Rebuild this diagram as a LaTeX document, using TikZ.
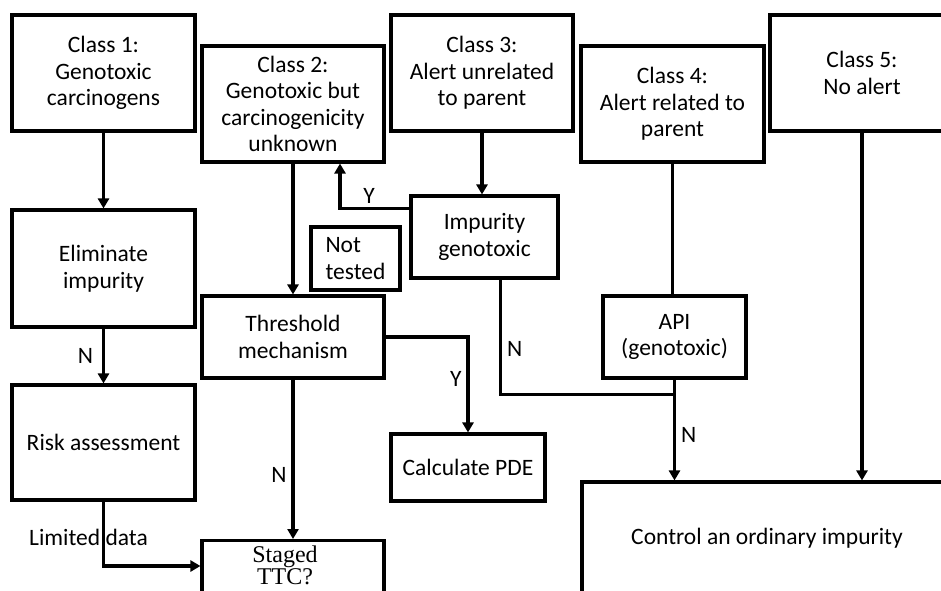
\documentclass[tikz,border=0pt]{standalone}
\usepackage{fontspec}
\setmainfont{Carlito}
\newfontfamily\ttcfont{Liberation Serif}
\usetikzlibrary{arrows.meta}

\begin{document}
\begin{tikzpicture}[x=1pt, y=-1pt,
  box/.style={draw, line width=3.1pt, align=center, inner sep=2pt, font=\fontsize{23.5}{26.5}\selectfont},
  flow/.style={line width=3.1pt, -{Triangle[length=10pt, width=11pt]}},
  link/.style={line width=3.1pt},
  tag/.style={font=\fontsize{23.5}{26.5}\selectfont, inner sep=3pt},
  ttc/.style={font=\ttcfont\fontsize{24}{19}\selectfont, align=center, inner sep=3pt}]
 \useasboundingbox (0,0) rectangle (941,590);
 \node[box, minimum width=183, minimum height=116] (c1) at (103.5,73) {Class 1:\\Genotoxic\\carcinogens};
 \node[box, minimum width=182, minimum height=116] (c2) at (293,104) {Class 2:\\Genotoxic but\\carcinogenicity\\unknown};
 \node[box, minimum width=182, minimum height=116] (c3) at (482,73) {Class 3:\\Alert unrelated\\to parent};
 \node[box, minimum width=183, minimum height=116] (c4) at (672.5,104) {Class 4:\\Alert related to\\parent};
 \node[box, minimum width=184, minimum height=116] (c5) at (862,73) {Class 5:\\No alert};
 \node[box, minimum width=183, minimum height=117] (elim) at (103.5,268.5) {Eliminate\\impurity};
 \node[box, minimum width=89, minimum height=63, align=left] (nottested) at (355.5,258.5) {Not\\tested};
 \node[box, minimum width=147, minimum height=82] (imp) at (484.5,237) {Impurity\\genotoxic};
 \node[box, minimum width=182, minimum height=82] (thresh) at (293,337) {Threshold\\mechanism};
 \node[box, minimum width=143, minimum height=82] (api) at (674.5,337) {API\\(genotoxic)};
 \node[box, minimum width=183, minimum height=115] (risk) at (103.5,442.5) {Risk assessment};
 \node[box, minimum width=154, minimum height=67] (pde) at (468,467.5) {Calculate PDE};
 \node[box, minimum width=182, minimum height=100, anchor=north,
   label={[ttc, anchor=north, xshift=-8pt, yshift=-4pt]north:{Staged\\TTC?}}] (staged) at (293,539) {};
 \node[box, minimum width=370, minimum height=112] (ctrl) at (767,538) {Control an ordinary impurity};

 \draw[flow] (c1) -- (elim);
 \draw[flow] (elim) -- node[tag, left=6pt]{N} (risk);
 \draw[flow] (risk.south) |- node[tag, pos=0.28, xshift=-15pt]{Limited data} ([yshift=-27pt]staged.north west);
 \draw[flow] (c2) -- (thresh);
 \draw[flow] ([yshift=-14pt]imp.north west) -| node[tag, pos=0.29, above=0pt]{Y} ([xshift=47pt]c2.south);
 \draw[flow] (c3.south) -- (c3.south |- imp.north);
 \draw[flow] (thresh) -- node[tag, pos=0.6, left=2pt]{N} (staged);
 \draw[flow] (thresh.east) -| node[tag, pos=0.72, left=2pt]{Y} (pde.north);
 \draw[link] (c4.south) -- (c4.south |- api.north);
 \draw[link] ([xshift=16pt]imp.south) |- node[tag, pos=0.3, right=2pt]{N} ([yshift=-15pt]api.south);
 \draw[flow] (api.south) -- node[tag, pos=0.55, right=2pt]{N} (api.south |- ctrl.north);
 \draw[flow] (c5.south) -- (c5.south |- ctrl.north);
\end{tikzpicture}
\end{document}
